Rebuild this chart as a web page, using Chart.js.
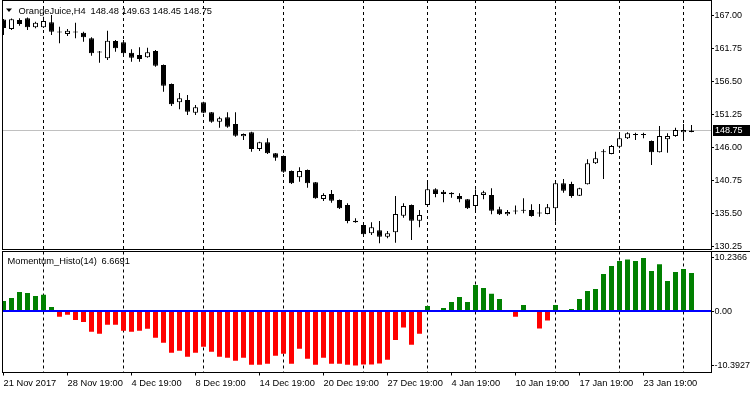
<!DOCTYPE html>
<html lang="en">
<head>
<meta charset="UTF-8">
<title>OrangeJuice,H4</title>
<script src="https://cdn.jsdelivr.net/npm/chart.js"></script>
<style>
    html, body { margin: 0; padding: 0; background: #fff; }
    #wrap { position: relative; width: 750px; height: 394px; overflow: hidden; }
    #priceChart { position: absolute; left: 0; top: 0; }
    #momChart { position: absolute; left: 0; top: 250px; }
</style>
</head>
<body>
<div id="wrap">
    <canvas id="priceChart" width="750" height="250"></canvas>
    <canvas id="momChart" width="750" height="144"></canvas>
</div>

<script>
    // H4 candles, oldest first
    var openP = [166.40, 164.88, 166.32, 166.59, 165.15, 165.15, 165.95, 164.41, 164.09, 164.41,
        164.30, 163.40, 161.22, 160.22, 162.97, 162.77, 161.11, 160.75, 160.38, 161.38,
        159.16, 156.13, 153.22, 153.59, 151.57, 153.22, 151.63, 150.14, 150.84, 149.77,
        147.81, 148.45, 145.79, 146.86, 145.11, 144.68, 142.29, 141.29, 142.45, 140.50,
        137.84, 138.63, 137.68, 136.88, 134.39, 133.70, 132.38, 132.86, 131.84, 132.54,
        135.18, 136.88, 134.39, 136.88, 139.38, 139.00, 138.84, 138.32, 137.79, 136.73,
        138.47, 138.47, 136.20, 135.40, 135.86, 135.99, 136.09, 135.57, 135.45, 136.36,
        140.34, 140.22, 138.36, 140.18, 143.52, 145.28, 145.00, 146.16, 147.50, 148.03,
        148.03, 147.07, 145.27, 147.34, 147.86, 148.45, 148.48];
    var highP = [166.47, 166.55, 166.59, 166.71, 166.05, 166.84, 167.11, 165.25, 164.88, 165.89,
        164.45, 163.56, 161.38, 164.61, 163.13, 163.13, 161.65, 161.97, 161.91, 161.54,
        159.24, 156.21, 154.70, 154.38, 152.79, 153.32, 151.68, 150.93, 151.63, 151.63,
        148.26, 148.55, 146.95, 147.50, 145.16, 144.76, 142.37, 142.88, 142.53, 140.54,
        138.75, 139.27, 137.76, 137.15, 134.77, 133.78, 134.13, 134.34, 132.75, 138.32,
        137.15, 136.96, 136.09, 140.43, 139.54, 139.27, 138.90, 138.75, 137.84, 139.35,
        139.16, 139.54, 136.61, 136.09, 136.80, 137.95, 137.00, 137.04, 137.04, 140.59,
        141.02, 140.59, 139.64, 144.15, 145.36, 145.75, 146.43, 148.29, 148.45, 148.39,
        148.39, 147.15, 149.45, 148.29, 149.18, 149.77, 149.63];
    var lowP = [163.93, 164.72, 165.41, 164.72, 165.00, 165.04, 163.93, 162.61, 163.77, 163.40,
        162.86, 160.64, 159.52, 159.95, 161.27, 160.75, 159.68, 159.68, 160.32, 158.89,
        154.91, 152.63, 152.11, 151.20, 151.20, 151.47, 149.98, 149.18, 149.18, 147.75,
        147.22, 145.36, 145.48, 145.00, 143.93, 142.02, 140.22, 140.59, 139.64, 137.89,
        137.52, 137.25, 136.25, 133.97, 134.07, 132.11, 132.11, 130.79, 131.59, 130.89,
        134.86, 131.32, 133.34, 136.61, 138.11, 137.31, 138.05, 137.31, 136.25, 135.77,
        137.79, 135.40, 135.29, 135.18, 135.40, 135.56, 135.02, 135.02, 135.40, 134.23,
        138.84, 138.05, 138.32, 140.15, 143.41, 141.02, 144.95, 145.90, 147.38, 147.22,
        147.50, 143.25, 145.24, 145.20, 147.75, 147.11, 148.45];
    var closeP = [165.04, 166.43, 165.68, 165.15, 165.89, 166.16, 164.45, 164.33, 164.61, 164.33,
        163.56, 161.02, 161.15, 163.02, 161.81, 161.02, 160.32, 160.11, 161.18, 159.05,
        155.86, 152.90, 153.86, 151.73, 152.43, 151.57, 150.14, 150.68, 149.34, 147.91,
        148.18, 145.79, 146.86, 145.11, 144.41, 142.18, 140.34, 142.29, 140.34, 137.95,
        138.47, 137.57, 136.36, 134.34, 134.13, 132.22, 133.34, 131.84, 132.38, 135.45,
        136.73, 134.39, 135.29, 139.38, 138.63, 138.63, 138.59, 137.79, 136.36, 138.47,
        138.90, 135.98, 135.40, 135.77, 135.84, 135.97, 135.13, 135.55, 136.52, 140.34,
        139.16, 138.32, 139.54, 143.52, 144.31, 145.26, 146.27, 147.50, 148.29, 148.01,
        148.01, 145.27, 147.86, 147.86, 148.82, 148.82, 148.75];

    // Momentum_Histo(14), one value per candle
    var momentum = [1.98, 2.55, 3.70, 3.51, 2.94, 3.19, 0.83, -1.02, -0.64, -1.66,
        -2.04, -3.90, -4.28, -2.55, -2.55, -3.70, -3.90, -3.70, -3.32, -5.04,
        -6.00, -7.92, -7.54, -8.68, -7.92, -6.77, -7.73, -8.68, -8.88, -9.45,
        -8.88, -10.22, -10.22, -10.03, -8.49, -8.11, -10.03, -7.15, -9.07, -10.22,
        -8.88, -10.03, -10.03, -10.25, -10.3927, -10.20, -10.20, -10.00, -9.30, -5.50,
        -3.10, -6.40, -4.30, 1.00, 0.00, 0.64, 1.78, 2.74, 1.78, 5.03,
        4.46, 3.38, 2.36, 0.25, -1.02, 1.21, 0.00, -3.30, -1.78, 1.21,
        0.25, 0.45, 2.36, 3.89, 4.27, 7.13, 8.66, 9.62, 9.94, 9.62,
        10.2366, 7.71, 9.04, 5.80, 7.52, 8.09, 7.33];

    var priceTicks = [167.00, 161.75, 156.50, 151.25, 146.00, 140.75, 135.50, 130.25];
    var momTicks = [10.2366, 0, -10.3927];
    var momTickLabels = ['10.2366', '0.00', '-10.3927'];
    var dateLabels = ['21 Nov 2017', '28 Nov 19:00', '4 Dec 19:00', '8 Dec 19:00', '14 Dec 19:00',
        '20 Dec 19:00', '27 Dec 19:00', '4 Jan 19:00', '10 Jan 19:00', '17 Jan 19:00', '23 Jan 19:00'];
    var dateLabelBars = [0, 8, 16, 24, 32, 40, 48, 56, 64, 72, 80];
    var separatorBars = [5, 15, 25, 35, 45, 53, 59, 69, 77, 85];
    var bidPrice = 148.75;
    var headerOHLC = '148.48 149.63 148.45 148.75';
    var momLast = '6.6691';

    var xMin = -0.1875, xMax = 88.4375;   // 8px per bar, room on the right
    var font = 'Liberation Sans';

    Chart.defaults.font.family = font;
    Chart.defaults.font.size = 9.3;
    Chart.defaults.color = '#000';

    var bars = openP.map(function (v, i) { return i; });

    function yAxisFit(scale) {
        scale.width = 39;
        scale.paddingTop = 0;
        scale.paddingBottom = 0;
    }

    // dashed period separators, drawn as a second x axis grid
    function separatorAxis() {
        return {
            type: 'linear', axis: 'x', position: 'bottom', min: xMin, max: xMax, offset: false,
            afterBuildTicks: function (s) { s.ticks = separatorBars.map(function (v) { return { value: v }; }); },
            afterFit: function (s) { s.height = 0; s.paddingLeft = 0; s.paddingRight = 0; },
            ticks: { display: false },
            grid: { color: '#000', lineWidth: 1, drawTicks: false, offset: false },
            border: { display: false, dash: [3, 3] }
        };
    }

    var priceDeco = {
        id: 'priceDeco',
        beforeDatasetsDraw: function (chart) {
            var ctx = chart.ctx, a = chart.chartArea;
            var y = Math.round(chart.scales.y.getPixelForValue(bidPrice)) + 0.5;
            ctx.save();
            ctx.strokeStyle = '#c0c0c0';
            ctx.lineWidth = 1;
            ctx.beginPath();
            ctx.moveTo(a.left, y);
            ctx.lineTo(a.right, y);
            ctx.stroke();
            ctx.restore();
        },
        afterDraw: function (chart) {
            var ctx = chart.ctx, a = chart.chartArea;
            var y = chart.scales.y.getPixelForValue(bidPrice);
            ctx.save();
            ctx.strokeStyle = '#000';
            ctx.lineWidth = 1;
            ctx.strokeRect(2.5, 0.5, a.right - 2, 249);
            // header
            ctx.fillStyle = '#000';
            ctx.beginPath();
            ctx.moveTo(6, 8.5);
            ctx.lineTo(12, 8.5);
            ctx.lineTo(9, 12);
            ctx.closePath();
            ctx.fill();
            ctx.font = '9.3px "' + font + '"';
            ctx.textBaseline = 'alphabetic';
            ctx.fillText('OrangeJuice,H4', 18.5, 14);
            ctx.fillText(headerOHLC, 90.5, 14);
            // bid label on the price scale
            ctx.fillRect(a.right + 2, Math.round(y) - 5, 750 - a.right - 2, 11);
            ctx.fillStyle = '#fff';
            ctx.font = '9px "' + font + '"';
            ctx.textBaseline = 'middle';
            ctx.fillText(bidPrice.toFixed(2), a.right + 4, Math.round(y) + 0.5);
            ctx.restore();
        }
    };

    new Chart(document.getElementById('priceChart'), {
        type: 'bar',
        data: {
            datasets: [{
                // candle bodies
                data: bars.map(function (i) { return { x: i, y: [openP[i], closeP[i]] }; }),
                backgroundColor: bars.map(function (i) { return closeP[i] < openP[i] ? '#000' : '#fff'; }),
                borderColor: '#000',
                borderWidth: 1,
                borderSkipped: false,
                barThickness: 5,
                minBarLength: 1,
                inflateAmount: 0,
                grouped: false,
                order: 0
            }, {
                // wicks
                data: bars.map(function (i) { return { x: i, y: [lowP[i], highP[i]] }; }),
                backgroundColor: '#000',
                borderWidth: 0,
                barThickness: 1,
                inflateAmount: 0,
                grouped: false,
                order: 1
            }]
        },
        options: {
            responsive: false,
            animation: false,
            devicePixelRatio: 1,
            events: [],
            layout: { padding: { left: 2, top: 0, right: 0, bottom: 0.5 }, autoPadding: false },
            plugins: { legend: { display: false }, tooltip: { enabled: false } },
            scales: {
                x: { type: 'linear', min: xMin, max: xMax, offset: false, grid: { offset: false }, display: false },
                sep: separatorAxis(),
                y: {
                    position: 'right', min: 129.805, max: 169.498,
                    afterBuildTicks: function (s) { s.ticks = priceTicks.map(function (v) { return { value: v }; }); },
                    afterFit: yAxisFit,
                    grid: { drawOnChartArea: false, tickLength: 3, color: '#000' },
                    border: { display: false },
                    ticks: { padding: 0.5, font: { size: 9 }, callback: function (v) { return v.toFixed(2); } }
                }
            }
        },
        plugins: [priceDeco]
    });

    var momDeco = {
        id: 'momDeco',
        afterDatasetsDraw: function (chart) {
            var ctx = chart.ctx, a = chart.chartArea;
            var y0 = Math.round(chart.scales.y.getPixelForValue(0));
            ctx.save();
            ctx.fillStyle = '#0000ff';
            ctx.fillRect(a.left, y0 - 1, a.right - a.left, 2);
            ctx.restore();
        },
        afterDraw: function (chart) {
            var ctx = chart.ctx, a = chart.chartArea;
            ctx.save();
            ctx.strokeStyle = '#000';
            ctx.lineWidth = 1;
            ctx.strokeRect(2.5, 1.5, a.right - 2, 121);
            ctx.beginPath();
            ctx.moveTo(a.right, 1.5);
            ctx.lineTo(750, 1.5);
            ctx.stroke();
            ctx.fillStyle = '#000';
            ctx.font = '9.3px "' + font + '"';
            ctx.textBaseline = 'alphabetic';
            ctx.fillText('Momentum_Histo(14)', 7.5, 13.5);
            ctx.fillText(momLast, 101.5, 13.5);
            ctx.restore();
        }
    };

    new Chart(document.getElementById('momChart'), {
        type: 'bar',
        data: {
            datasets: [{
                data: bars.map(function (i) { return { x: i, y: momentum[i] }; }),
                backgroundColor: momentum.map(function (v) { return v >= 0 ? '#008000' : '#ff0000'; }),
                borderWidth: 0,
                barThickness: 5,
                inflateAmount: 0,
                grouped: false
            }]
        },
        options: {
            responsive: false,
            animation: false,
            devicePixelRatio: 1,
            events: [],
            layout: { padding: { left: 2, top: 1.5, right: 0, bottom: 0 }, autoPadding: false },
            plugins: { legend: { display: false }, tooltip: { enabled: false } },
            scales: {
                x: {
                    type: 'linear', position: 'bottom', min: xMin, max: xMax, offset: false,
                    afterBuildTicks: function (s) { s.ticks = dateLabelBars.map(function (v) { return { value: v }; }); },
                    afterFit: function (s) { s.height = 21.5; s.paddingLeft = 0; s.paddingRight = 0; },
                    grid: { drawOnChartArea: false, tickLength: 3, color: '#000', offset: false },
                    border: { display: false },
                    ticks: {
                        autoSkip: false, maxRotation: 0, align: 'start', padding: 2,
                        callback: function (v) {
                            var j = dateLabelBars.indexOf(v);
                            return j >= 0 ? dateLabels[j] : '';
                        }
                    }
                },
                sep: separatorAxis(),
                y: {
                    position: 'right', min: -11.72, max: 11.46,
                    afterBuildTicks: function (s) { s.ticks = momTicks.map(function (v) { return { value: v }; }); },
                    afterFit: yAxisFit,
                    grid: { drawOnChartArea: false, tickLength: 3, color: '#000' },
                    border: { display: false },
                    ticks: {
                        padding: 0.5,
                        font: { size: 9 },
                        callback: function (v) {
                            var j = momTicks.indexOf(v);
                            return j >= 0 ? momTickLabels[j] : '';
                        }
                    }
                }
            }
        },
        plugins: [momDeco]
    });
</script>

</body>
</html>
